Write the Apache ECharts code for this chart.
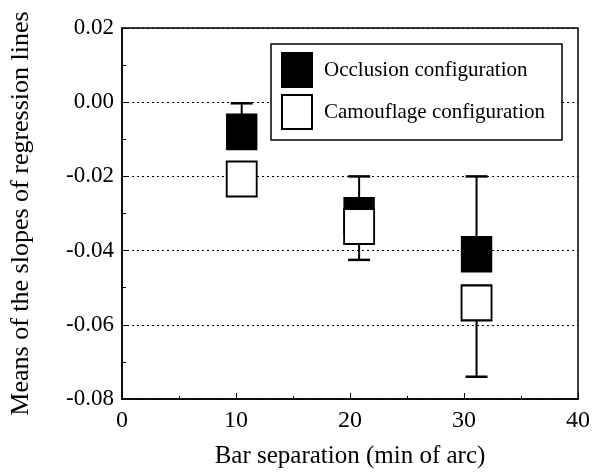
<!DOCTYPE html>
<html>
<head>
<meta charset="utf-8">
<script src="https://cdn.jsdelivr.net/npm/echarts@6/dist/echarts.min.js"></script>
<style>
    html, body { margin: 0; padding: 0; background: #fff; }
    #chart { width: 593px; height: 474px; }
</style>
</head>
<body>
<div id="chart"></div>
<script>
// bar separation (min of arc) for each point, as plotted
var occX = [10.5, 20.8, 31.1];
var occY = [-0.008, -0.0305, -0.041];
var occErr = [0.0077, 0.0105, 0.021];     // drawn upward
var camX = [10.5, 20.8, 31.1];
var camY = [-0.0207, -0.0335, -0.0541];
var camErr = [0.004, 0.009, 0.0199];      // drawn downward

var xTicks = [0, 10, 20, 30, 40];
var yTicks = [-0.08, -0.06, -0.04, -0.02, 0.00, 0.02];

var FONT = 'Liberation Serif';

function pairs(xs, ys, es) {
    var out = [];
    for (var i = 0; i < xs.length; i++) {
        out.push([xs[i], ys[i], es[i]]);
    }
    return out;
}

function errorBar(dir) {
    return function (params, api) {
        var x = api.value(0), y = api.value(1), e = api.value(2);
        var p0 = api.coord([x, y]);
        var p1 = api.coord([x, y + dir * e]);
        var half = 11;
        return {
            type: 'group',
            children: [
                { type: 'line', shape: { x1: p0[0], y1: p0[1], x2: p1[0], y2: p1[1] },
                  style: { stroke: '#000', lineWidth: 2 } },
                { type: 'line', shape: { x1: p1[0] - half, y1: p1[1], x2: p1[0] + half, y2: p1[1] },
                  style: { stroke: '#000', lineWidth: 2.5 } }
            ]
        };
    };
}

var chart = echarts.init(document.getElementById('chart'));
var option = {
    animation: false,
    backgroundColor: '#fff',
    textStyle: { fontFamily: FONT, color: '#000' },
    grid: {
        left: 121, right: 13, top: 28, bottom: 75,
        show: true, borderColor: '#000', borderWidth: 1.5
    },
    legend: {
        data: ['Occlusion configuration', 'Camouflage configuration'],
        orient: 'vertical',
        left: 271, top: 44,
        padding: [8, 17, 10, 10],
        itemWidth: 30, itemHeight: 34, itemGap: 6,
        borderColor: '#000', borderWidth: 1.5,
        backgroundColor: '#fff',
        textStyle: { fontFamily: FONT, fontSize: 21, color: '#000', padding: [0, 0, 0, 7] },
        selectedMode: false
    },
    xAxis: {
        type: 'value',
        min: 0, max: 40, interval: 10,
        name: 'Bar separation (min of arc)',
        nameLocation: 'middle', nameGap: 45,
        nameTextStyle: { fontFamily: FONT, fontSize: 25, color: '#000' },
        axisLine: { onZero: false, lineStyle: { color: '#000', width: 1.5 } },
        axisTick: { inside: true, length: 6, lineStyle: { color: '#000' } },
        minorTick: { show: true, splitNumber: 2, length: 3, lineStyle: { color: '#000' } },
        axisLabel: {
            fontFamily: FONT, fontSize: 24, color: '#000', margin: 10,
            formatter: function (v) { return xTicks.indexOf(v) >= 0 ? String(v) : ''; }
        },
        splitLine: { show: false }
    },
    yAxis: {
        type: 'value',
        min: -0.08, max: 0.02, interval: 0.02,
        name: 'Means of the slopes of regression lines',
        nameLocation: 'middle', nameGap: 88,
        nameTextStyle: { fontFamily: FONT, fontSize: 26, color: '#000' },
        axisLine: { onZero: false, lineStyle: { color: '#000', width: 1.5 } },
        axisTick: { inside: true, length: 6, lineStyle: { color: '#000' } },
        minorTick: { show: true, splitNumber: 2, length: 4, lineStyle: { color: '#000' } },
        axisLabel: {
            fontFamily: FONT, fontSize: 23, color: '#000', margin: 8,
            formatter: function (v) {
                var t = yTicks.find(function (k) { return Math.abs(k - v) < 1e-9; });
                return t === undefined ? '' : t.toFixed(2);
            }
        },
        splitLine: {
            show: true,
            lineStyle: { color: '#000', type: [2, 3], width: 1 }
        }
    },
    series: [
        {
            name: 'occErr',
            type: 'custom',
            renderItem: errorBar(1),
            data: pairs(occX, occY, occErr),
            z: 2
        },
        {
            name: 'Occlusion configuration',
            type: 'scatter',
            symbol: 'rect',
            symbolSize: [30, 35],
            itemStyle: { color: '#000', borderColor: '#000', borderWidth: 1.5, opacity: 1 },
            data: pairs(occX, occY, occErr),
            z: 3
        },
        {
            name: 'camErr',
            type: 'custom',
            renderItem: errorBar(-1),
            data: pairs(camX, camY, camErr),
            z: 4
        },
        {
            name: 'Camouflage configuration',
            type: 'scatter',
            symbol: 'rect',
            symbolSize: [30, 35],
            itemStyle: { color: '#fff', borderColor: '#000', borderWidth: 2, opacity: 1 },
            data: pairs(camX, camY, camErr),
            z: 5
        }
    ]
};
chart.setOption(option);
</script>
</body>
</html>
